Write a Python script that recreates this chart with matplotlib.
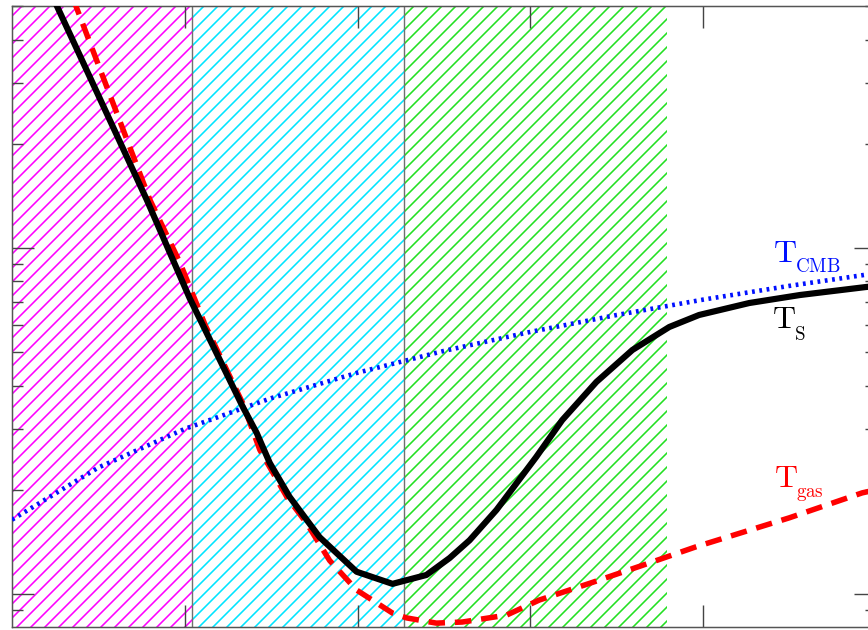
import matplotlib
matplotlib.use('Agg')

import matplotlib.pyplot as plt

# temperatures (K) versus redshift
z_cmb = [5.0, 7.5, 10.0, 12.5, 15.0, 17.5, 20.0, 22.5, 25.0, 27.5, 30.0]
t_cmb = [16.4, 23.2, 30.0, 36.8, 43.6, 50.4, 57.2, 64.0, 70.9, 77.7, 84.5]

z_spin = [6.0, 8.90, 10.14, 11.68, 12.08, 12.46, 13.03, 13.90, 14.97, 16.01,
          16.99, 17.66, 18.24, 19.02, 20.17, 20.92, 21.91, 22.95, 24.02,
          24.88, 26.33, 27.8, 29.71, 30.0]
t_spin = [580, 137.7, 71.6, 34.7, 29.2, 23.9, 19.1, 14.6, 11.6, 10.7,
          11.35, 12.7, 14.3, 17.5, 24.9, 31.8, 41.0, 50.7, 59.1,
          64.0, 69.3, 73.1, 77.1, 77.6]

z_gas = [6.5, 8.99, 9.86, 10.6, 11.68, 12.17, 12.95, 13.53, 14.19, 14.97,
         16.01, 16.42, 17.28, 18.03, 19.31, 20.26, 21.79, 23.24, 24.80,
         27.49, 29.60, 30.0]
t_gas = [617, 137.7, 90.6, 59.5, 35.5, 26.1, 19.1, 16.0, 12.5, 10.27,
         8.81, 8.53, 8.24, 8.30, 8.69, 9.61, 10.8, 12.1, 13.7,
         16.6, 19.6, 20.0]

# epochs shaded with hatching
bands_z = [(5.0, 10.2), (10.2, 16.33), (16.33, 23.96)]
bands_c = ['#ff00ff', '#00e5ff', '#22e022']
edges_z = [10.2, 16.33]

DPI = 84
PX = 72.0 / DPI  # points per pixel

plt.rcParams['mathtext.fontset'] = 'cm'
plt.rcParams['hatch.linewidth'] = 1.6 * PX

fig = plt.figure(figsize=(868 / DPI, 630 / DPI), dpi=DPI)
ax = fig.add_axes([12 / 868, 3 / 630, 864 / 868, 621 / 630])

for (z0, z1), c in zip(bands_z, bands_c):
    ax.axvspan(z0, z1, facecolor='none', edgecolor=c, hatch='//', linewidth=0, zorder=1)
for zb in edges_z:
    ax.axvline(zb, color='#707070', lw=1.4 * PX, zorder=2)

ax.plot(z_cmb, t_cmb, color='#0010ff', lw=4.6 * PX, dashes=(0.6, 1.0), zorder=3)
ax.plot(z_gas, t_gas, color='#ff0000', lw=5.5 * PX, dashes=(3.0, 1.8), zorder=4)
ax.plot(z_spin, t_spin, color='black', lw=6.2 * PX, zorder=5)

ax.set_yscale('log')
ax.set_xlim(5, 30)
ax.set_ylim(8.03, 500)
ax.set_xticks([10, 15, 20, 25])
ax.minorticks_off()
ax.yaxis.set_minor_locator(matplotlib.ticker.LogLocator(base=10, subs=range(2, 10)))
ax.tick_params(which='both', direction='in', top=True, right=True,
               labelbottom=False, labelleft=False, color='#444444', width=1.4 * PX)
ax.tick_params(which='major', length=22 * PX)
ax.tick_params(which='minor', length=11 * PX)
for sp in ax.spines.values():
    sp.set_color('#555555')
    sp.set_linewidth(1.5 * PX)

# curve labels: big T plus smaller subscript
labels = [('CMB', '#0010ff', 27.02, 91.1, 85.2),
          ('S', 'black', 27.0, 58.8, 54.2),
          ('gas', '#ff0000', 27.05, 20.4, 19.05)]
for sub, c, zx, ty, sy in labels:
    ax.text(zx, ty, r'$\mathrm{T}$', color=c, fontsize=32 * PX, ha='left', va='baseline', zorder=6)
    ax.text(zx + 0.64, sy, r'$\mathrm{%s}$' % sub, color=c, fontsize=19 * PX, ha='left', va='baseline', zorder=6)

fig.savefig('out.png', dpi=DPI)
